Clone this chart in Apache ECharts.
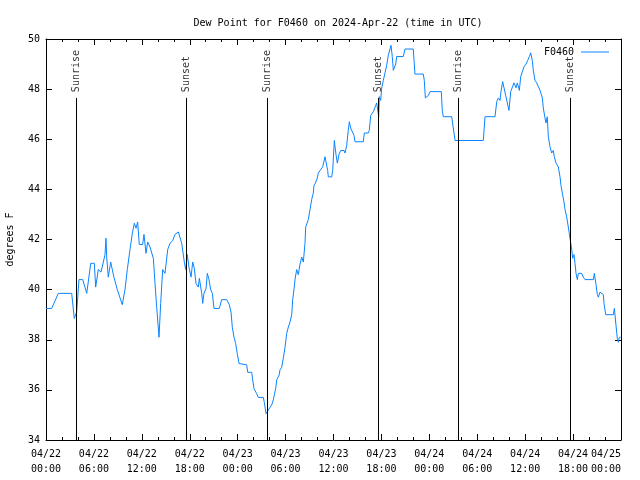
<!DOCTYPE html>
<html><head><meta charset="utf-8">
<script src="https://cdn.jsdelivr.net/npm/echarts@6/dist/echarts.min.js"></script>
<style>html,body{margin:0;padding:0;background:#fff}#c{width:640px;height:480px}</style>
</head><body><div id="c"></div>
<script>
// hours since 2024-04-22 00:00 UTC
var hours = [0.0,0.71,1.54,3.22,3.54,3.84,4.13,4.6,5.1,5.6,6.05,6.22,6.55,6.89,7.39,7.51,7.6,7.8,8.1,8.5,8.93,9.55,9.89,10.18,10.52,10.81,11.06,11.27,11.48,11.68,12.1,12.27,12.52,12.73,13.02,13.44,13.65,13.86,14.15,14.36,14.61,14.9,15.24,15.53,15.86,16.15,16.57,16.78,16.99,17.32,17.49,17.69,17.9,18.16,18.37,18.57,18.78,19.07,19.2,19.5,19.62,19.78,20.04,20.2,20.41,20.62,20.83,21.04,21.7,22.0,22.63,22.95,23.17,23.33,23.54,23.75,23.95,24.17,25.13,25.26,25.76,25.88,26.05,26.38,26.58,27.21,27.34,27.55,27.76,28.05,28.26,28.46,28.59,28.76,28.89,29.21,29.3,29.51,29.71,29.93,30.14,30.34,30.55,30.77,30.89,31.09,31.18,31.39,31.59,31.8,32.02,32.22,32.43,32.52,32.72,32.85,33.06,33.27,33.47,33.56,33.73,33.97,34.1,34.31,34.65,34.94,35.15,35.27,35.35,35.78,35.9,36.1,36.31,36.48,36.69,36.9,37.32,37.44,37.65,37.85,37.98,38.15,38.35,38.57,38.69,39.73,39.86,40.07,40.36,40.48,40.66,40.99,41.2,41.41,41.54,41.66,41.74,41.91,42.04,42.24,42.45,42.66,42.86,43.08,43.2,43.36,43.49,43.58,43.79,43.91,44.74,44.95,45.99,46.2,47.24,47.37,47.5,47.75,47.88,48.09,49.5,49.62,49.75,50.8,51.0,51.22,54.76,54.97,56.22,56.44,56.64,56.85,56.97,57.18,57.35,57.56,57.77,57.97,58.19,58.44,58.6,58.85,59.02,59.27,59.44,59.64,59.86,60.11,60.32,60.53,60.69,60.89,61.02,61.23,61.44,61.65,61.86,62.15,62.27,62.48,62.61,62.77,62.9,63.11,63.32,63.52,63.65,63.86,64.15,64.36,64.49,64.65,64.86,64.99,65.2,65.4,65.52,65.61,65.83,65.95,66.11,66.24,66.37,66.53,66.66,67.08,67.28,67.49,68.54,68.66,68.87,69.04,69.16,69.37,69.58,69.79,69.87,70.09,71.04,71.17,71.38,71.54,71.67,71.79,71.96];
var dewPoint = [39.25,39.25,39.85,39.85,38.85,39.1,40.4,40.4,39.85,41.05,41.05,40.1,40.8,40.7,41.4,42.05,41.3,40.5,41.1,40.5,40.0,39.4,40.0,40.8,41.6,42.25,42.65,42.45,42.7,41.8,41.8,42.2,41.45,41.9,41.7,41.25,40.25,39.3,38.1,39.45,40.8,40.65,41.6,41.85,41.95,42.2,42.3,42.25,41.85,41.1,40.8,41.4,40.9,40.5,41.1,40.85,40.25,40.1,40.45,39.85,39.45,39.85,40.05,40.65,40.4,40.0,39.85,39.25,39.25,39.6,39.6,39.4,39.1,38.5,38.1,37.85,37.45,37.05,37.0,36.7,36.7,36.4,36.05,35.85,35.7,35.7,35.5,35.05,35.1,35.3,35.4,35.6,35.8,36.05,36.4,36.6,36.8,36.9,37.25,37.7,38.25,38.5,38.7,39.0,39.6,40.1,40.4,40.8,40.6,41.0,41.3,41.1,41.85,42.5,42.45,42.8,43.2,43.6,43.85,44.15,44.25,44.45,44.65,44.75,44.9,45.3,45.35,44.75,44.5,44.5,44.75,45.95,45.4,45.05,45.4,45.55,45.55,45.45,45.75,46.35,46.7,46.45,46.45,46.15,45.9,45.9,46.25,46.3,46.25,46.35,46.95,47.1,47.15,47.45,47.15,46.9,47.7,47.55,48.05,48.35,48.65,48.95,49.35,49.6,49.75,49.3,48.75,48.75,49.0,49.3,49.3,49.6,49.6,48.6,48.6,48.35,47.65,47.65,47.75,47.9,47.9,47.15,46.9,46.9,46.45,45.95,45.95,46.9,46.9,47.5,47.65,47.55,47.9,48.3,48.3,47.75,47.75,47.15,47.9,47.95,48.25,48.05,48.25,47.95,48.5,48.45,48.9,49.0,49.15,49.3,49.45,49.15,48.75,48.35,48.25,48.1,47.95,47.65,47.25,46.85,46.65,46.9,46.1,45.7,45.45,45.55,45.3,45.05,44.9,44.5,44.15,43.85,43.5,43.2,42.9,42.5,42.25,42.05,41.6,41.25,41.4,41.05,40.65,40.4,40.65,40.65,40.5,40.4,40.4,40.65,40.2,39.8,39.7,39.9,39.95,39.8,39.45,39.0,39.0,39.25,38.55,38.05,37.9,38.1,38.1];
var sunTimes = [3.75, 17.53, 27.72, 41.62, 51.63, 65.65];
var sunNames = ["Sunrise", "Sunset", "Sunrise", "Sunset", "Sunrise", "Sunset"];
var yTicks = {min: 34, max: 50, interval: 2};
var xTicks = {min: 0, max: 72, interval: 6};
var seriesName = "F0460";
var titleText = "Dew Point for F0460 on 2024-Apr-22 (time in UTC)";
var yName = "degrees F";

var FONT = "DejaVu Sans Mono";
var COLOR = "#0a84ff";
var lineData = hours.map(function (h, i) { return [h, dewPoint[i]]; });
var LINE_TOP = 47.65, LABEL_BASE = 47.88;
var sunLines = sunTimes.map(function (t) { return [{coord: [t, yTicks.min]}, {coord: [t, LINE_TOP]}]; });
var sunLabels = sunTimes.map(function (t, i) { return {value: [t, LABEL_BASE], label: {formatter: sunNames[i]}}; });

function fmtX(v) {
  var day = 22 + Math.floor(v / 24);
  var hh = v % 24;
  if (v >= 72) { day = 25; hh = 0; }
  return "04/" + day + "\n" + (hh < 10 ? "0" : "") + hh + ":00";
}
var axisCommon = {
  axisLine: {show: true, onZero: false, lineStyle: {color: "#000", width: 1}},
  axisTick: {show: true, inside: true, length: 6, lineStyle: {color: "#000"}},
  splitLine: {show: false}
};
var chart = echarts.init(document.getElementById("c"), null, {renderer: "canvas"});
chart.setOption({
  animation: false,
  backgroundColor: "#fff",
  textStyle: {fontFamily: FONT},
  title: {text: titleText, left: 333, textAlign: "center", top: 13, textStyle: {fontFamily: FONT, fontSize: 10, fontWeight: "normal", color: "#000"}},
  legend: {show: true, right: 26, top: 42, itemWidth: 28, itemHeight: 1, align: "right", itemGap: 0,
    textStyle: {fontFamily: FONT, fontSize: 10, color: "#000", padding: [0, 2, 0, 0]},
    data: [{name: seriesName, icon: "rect", itemStyle: {color: COLOR, borderWidth: 0}}]},
  grid: {left: 46, right: 19, top: 39, bottom: 40, containLabel: false, outerBoundsMode: "none"},
  xAxis: [
    Object.assign({type: "value", position: "bottom", min: xTicks.min, max: xTicks.max, interval: xTicks.interval,
      minorTick: {show: true, splitNumber: 3, length: 3, lineStyle: {color: "#000"}},
      axisLabel: {show: true, formatter: fmtX, fontFamily: FONT, fontSize: 10, color: "#000", margin: 7, lineHeight: 15,
        hideOverlap: false, alignMaxLabel: "right"}}, axisCommon),
    Object.assign({type: "value", position: "top", min: xTicks.min, max: xTicks.max, interval: xTicks.interval,
      minorTick: {show: true, splitNumber: 3, length: 3, lineStyle: {color: "#000"}},
      axisLabel: {show: false}}, axisCommon)
  ],
  yAxis: [
    Object.assign({type: "value", position: "left", min: yTicks.min, max: yTicks.max, interval: yTicks.interval,
      name: yName, nameLocation: "middle", nameGap: 31, nameRotate: 90,
      nameTextStyle: {fontFamily: FONT, fontSize: 10, color: "#000"},
      axisLabel: {show: true, fontFamily: FONT, fontSize: 10, color: "#000", margin: 6}}, axisCommon),
    Object.assign({type: "value", position: "right", min: yTicks.min, max: yTicks.max, interval: yTicks.interval,
      axisLabel: {show: false}}, axisCommon)
  ],
  series: [
    {name: seriesName, type: "line", data: lineData, showSymbol: false, symbol: "none",
      lineStyle: {color: COLOR, width: 1}, itemStyle: {color: COLOR}, z: 3},
    {name: "sunEvents", type: "scatter", data: sunLabels, symbolSize: 1, itemStyle: {color: "rgba(0,0,0,0)"},
      label: {show: true, position: "inside", rotate: 90, align: "left", verticalAlign: "middle",
        fontFamily: FONT, fontSize: 10, color: "#000"},
      markLine: {silent: true, symbol: ["none", "none"], label: {show: false}, lineStyle: {color: "#000", width: 1, type: "solid"}, data: sunLines},
      z: 2}
  ]
});
</script></body></html>
